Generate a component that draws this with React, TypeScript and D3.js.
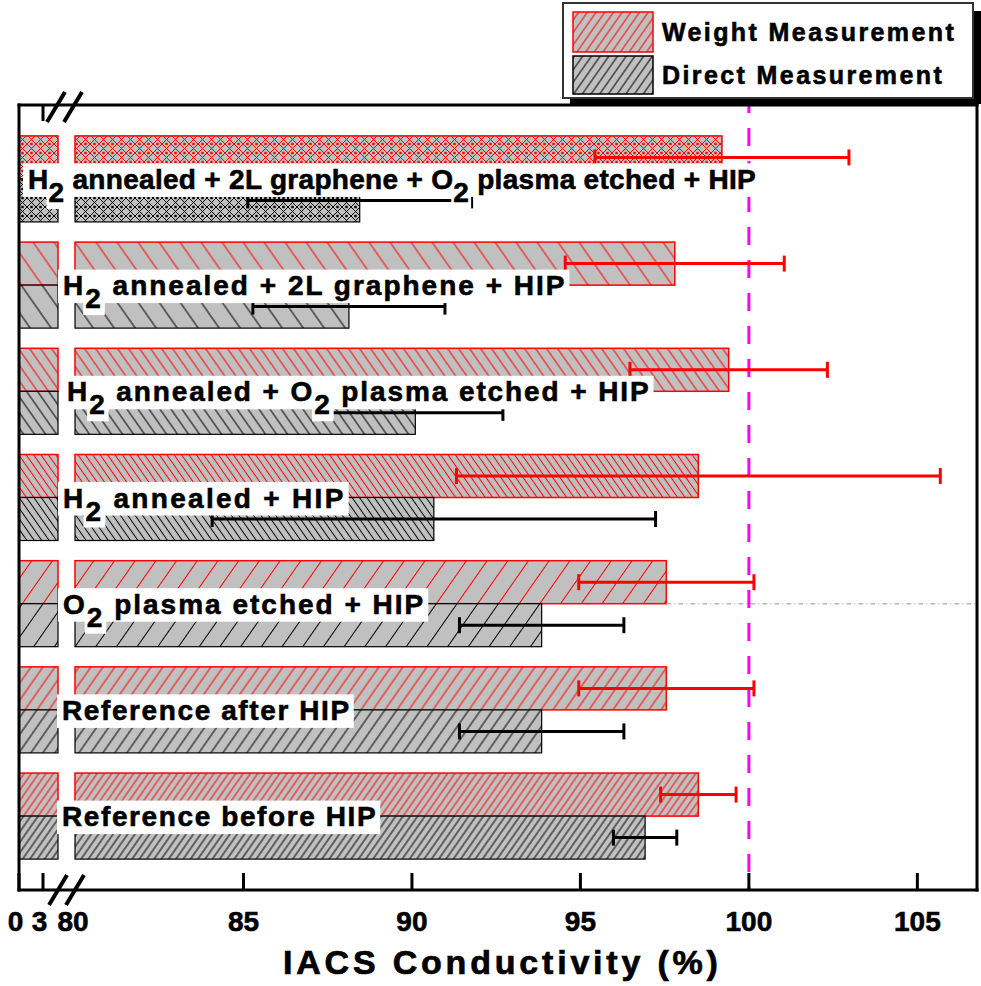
import React, { useEffect, useRef } from "react";
import * as d3 from "d3";

// ---------------- data ----------------
const categories = [
  "H2 annealed + 2L graphene + O2 plasma etched + HIP",
  "H2 annealed + 2L graphene + HIP",
  "H2 annealed + O2 plasma etched + HIP",
  "H2 annealed + HIP",
  "O2 plasma etched + HIP",
  "Reference after HIP",
  "Reference before HIP",
];
const seriesNames = ["Weight Measurement", "Direct Measurement"];
const weightValues = [99.2, 97.8, 99.4, 98.5, 97.55, 97.55, 98.5];
const weightErrors = [3.77, 3.25, 2.93, 7.18, 2.6, 2.6, 1.12];
const directValues = [88.45, 88.13, 90.1, 90.65, 93.85, 93.85, 96.92];
const directErrors = [3.32, 2.85, 2.6, 6.58, 2.44, 2.44, 0.94];
const leftTicks = [0, 3];
const rightTicks = [80, 85, 90, 95, 100, 105];
const referenceValue = 100;
const xTitle = "IACS Conductivity (%)";

// ---------------- styles ----------------
const hatchStyles = [
  { kind: "cross", period: 9 },
  { kind: "back", period: 21 },
  { kind: "back", period: 11 },
  { kind: "back", period: 7.4 },
  { kind: "fwd", period: 20.7 },
  { kind: "fwd", period: 12 },
  { kind: "fwd", period: 7.3 },
];
const legendHatch = { kind: "fwd", period: 8.7 };
const labelX = [28, 63, 67, 63, 63, 62, 62];
const labelSpacing = [0.3, 2.0, 1.9, 2.3, 2.0, 1.6, 1.6];
const seriesColors = ["#ff0000", "#000000"];
const FONT = "'Liberation Sans', Arial, sans-serif";
const TEXT_STROKE = 0.6;

function parseLabel(s: string) {
  const segs: { text: string; sub: boolean }[] = [];
  let cur = "";
  for (let i = 0; i < s.length; i++) {
    const c = s[i];
    if (c === "2" && i > 0 && (s[i - 1] === "H" || s[i - 1] === "O")) {
      segs.push({ text: cur, sub: false });
      segs.push({ text: "2", sub: true });
      cur = "";
    } else cur += c;
  }
  if (cur) segs.push({ text: cur, sub: false });
  return segs.filter((d) => d.text.length > 0);
}

export default function App() {
  const ref = useRef<SVGSVGElement>(null);
  useEffect(() => {
    const svg = d3.select(ref.current as SVGSVGElement);
    svg.selectAll("*").remove();
    const defs = svg.append("defs");

    const x0 = 19, x1 = 977, yTop = 105, yBot = 890;
    const breakL = 58, breakR = 75;
    const xL = d3.scaleLinear().domain([0, 4.875]).range([x0, breakL]);
    const xR = d3.scaleLinear().domain([80, 106.77]).range([breakR, x1]);
    const y = d3
      .scaleBand<string>()
      .domain(categories)
      .range([yTop, yBot])
      .paddingInner(0.19)
      .paddingOuter(0.291);
    const sub = d3.scaleBand<string>().domain(seriesNames).range([0, y.bandwidth()]);

    function makePattern(id: string, style: any, color: string) {
      if (style.kind === "cross") {
        const p = style.period;
        const pat = defs
          .append("pattern")
          .attr("id", id)
          .attr("patternUnits", "userSpaceOnUse")
          .attr("width", p)
          .attr("height", p);
        pat
          .append("path")
          .attr("d", `M0,0L${p},${p}M${p},0L0,${p}`)
          .attr("stroke", color)
          .attr("stroke-width", 1)
          .attr("fill", "none");
        pat.append("rect").attr("x", p / 2 - 1.2).attr("y", -1.2).attr("width", 2.4).attr("height", 2.4).attr("fill", color);
        pat.append("rect").attr("x", p / 2 - 1.2).attr("y", p - 1.2).attr("width", 2.4).attr("height", 2.4).attr("fill", color);
      } else {
        const d = style.period * Math.sin((55 * Math.PI) / 180);
        const pat = defs
          .append("pattern")
          .attr("id", id)
          .attr("patternUnits", "userSpaceOnUse")
          .attr("width", d)
          .attr("height", d)
          .attr("patternTransform", `rotate(${style.kind === "fwd" ? 35 : -35})`);
        pat
          .append("line")
          .attr("x1", d / 2)
          .attr("x2", d / 2)
          .attr("y1", -1)
          .attr("y2", d + 1)
          .attr("stroke", color)
          .attr("stroke-width", 1);
      }
    }

    categories.forEach((c, i) => {
      seriesColors.forEach((col, s) => makePattern(`h-${i}-${s}`, hatchStyles[i], col));
    });
    seriesColors.forEach((col, s) => makePattern(`leg-${s}`, legendHatch, col));

    // ---------- bars ----------
    const barG = svg.append("g");
    const vals = [weightValues, directValues];
    categories.forEach((c, i) => {
      seriesNames.forEach((sn, s) => {
        const v = vals[s][i];
        const yy = (y(c) as number) + (sub(sn) as number);
        const h = sub.bandwidth();
        const pieces = [
          [xL(0), xL(Math.min(v, 4.875))],
          [xR(80), xR(v)],
        ];
        pieces.forEach(([a, b]) => {
          barG.append("rect").attr("x", a).attr("y", yy).attr("width", b - a).attr("height", h).attr("fill", "#c0c0c0");
          barG.append("rect").attr("x", a).attr("y", yy).attr("width", b - a).attr("height", h).attr("fill", `url(#h-${i}-${s})`);
          barG
            .append("rect")
            .attr("x", a)
            .attr("y", yy)
            .attr("width", b - a)
            .attr("height", h)
            .attr("fill", "none")
            .attr("stroke", seriesColors[s])
            .attr("stroke-width", s === 0 ? 1.5 : 1.2);
        });
      });
    });

    // dotted gray line (present in original at boundary of 5th group)
    {
      const c = categories[4];
      const yc = (y(c) as number) + y.bandwidth() / 2;
      svg
        .append("line")
        .attr("x1", xR(weightValues[4]))
        .attr("x2", x1)
        .attr("y1", yc)
        .attr("y2", yc)
        .attr("stroke", "#b8b8b8")
        .attr("stroke-width", 1.5)
        .attr("stroke-dasharray", "5,3,1,3");
    }

    // reference line
    svg
      .append("line")
      .attr("x1", xR(referenceValue))
      .attr("x2", xR(referenceValue))
      .attr("y1", yTop)
      .attr("y2", yBot)
      .attr("stroke", "#ff00ff")
      .attr("stroke-width", 3)
      .attr("stroke-dasharray", "18,15")
      .attr("stroke-dashoffset", 10);

    // ---------- error bars ----------
    const errs = [weightErrors, directErrors];
    categories.forEach((c, i) => {
      seriesNames.forEach((sn, s) => {
        const v = vals[s][i];
        const e = errs[s][i];
        const yc = (y(c) as number) + (sub(sn) as number) + sub.bandwidth() / 2;
        const col = seriesColors[s];
        const a = xR(v - e), b = xR(v + e);
        const g = svg.append("g").attr("stroke", col).attr("stroke-width", 3);
        g.append("line").attr("x1", a).attr("x2", b).attr("y1", yc).attr("y2", yc);
        g.append("line").attr("x1", a).attr("x2", a).attr("y1", yc - 8).attr("y2", yc + 8);
        g.append("line").attr("x1", b).attr("x2", b).attr("y1", yc - 8).attr("y2", yc + 8);
      });
    });

    // ---------- labels ----------
    categories.forEach((c, i) => {
      const segs = parseLabel(c);
      const g = svg.append("g");
      const base = (y(c) as number) + y.bandwidth() / 2 + 10;
      let cx = labelX[i];
      const mainBoxes: DOMRect[] = [];
      const subBoxes: DOMRect[] = [];
      segs.forEach((seg) => {
        const t = g
          .append("text")
          .attr("x", cx)
          .attr("y", seg.sub ? base + 13 : base)
          .attr("font-family", FONT)
          .attr("font-weight", "bold")
          .attr("font-size", 28)
          .attr("letter-spacing", labelSpacing[i])
          .attr("stroke", "#000")
          .attr("stroke-width", TEXT_STROKE)
          .style("white-space", "pre")
          .attr("fill", "#000")
          .text(seg.text);
        const node = t.node() as SVGTextElement;
        const bb = node.getBBox();
        if (seg.sub) subBoxes.push(bb);
        else mainBoxes.push(bb);
        cx += node.getComputedTextLength();
      });
      const minX = d3.min(mainBoxes.concat(subBoxes), (b) => b.x) as number;
      const maxX = cx;
      g.insert("rect", ":first-child")
        .attr("x", minX - 5)
        .attr("y", base - 25.5)
        .attr("width", maxX - minX + 8)
        .attr("height", 33.5)
        .attr("fill", "#fff");
      subBoxes.forEach((bb) => {
        g.insert("rect", ":first-child")
          .attr("x", bb.x - 2)
          .attr("y", base - 10)
          .attr("width", bb.width + 4)
          .attr("height", 30)
          .attr("fill", "#fff");
      });
    });

    // ---------- frame & axes ----------
    const fr = svg.append("g").attr("stroke", "#000").attr("stroke-width", 3).attr("stroke-linecap", "square");
    fr.append("line").attr("x1", x0).attr("x2", x0).attr("y1", yTop).attr("y2", yBot);
    fr.append("line").attr("x1", x1).attr("x2", x1).attr("y1", yTop).attr("y2", yBot);
    fr.append("line").attr("x1", x0).attr("x2", x1).attr("y1", yTop).attr("y2", yTop);
    fr.append("line").attr("x1", x0).attr("x2", x1).attr("y1", yBot).attr("y2", yBot);

    const tk = svg.append("g").attr("stroke", "#000").attr("stroke-width", 3);
    leftTicks.forEach((t) => {
      tk.append("line").attr("x1", xL(t)).attr("x2", xL(t)).attr("y1", yBot).attr("y2", yBot - 17);
      if (t > 0) tk.append("line").attr("x1", xL(t)).attr("x2", xL(t)).attr("y1", yTop).attr("y2", yTop + 16);
    });
    rightTicks.forEach((t) => {
      if (t > 80) tk.append("line").attr("x1", xR(t)).attr("x2", xR(t)).attr("y1", yBot).attr("y2", yBot - 17);
    });

    // break marks
    const bk = svg.append("g").attr("stroke", "#000").attr("stroke-width", 4);
    [
      [breakL, yBot],
      [breakR, yBot],
      [breakL - 2, yTop + 2],
      [breakR - 2, yTop + 2],
    ].forEach(([cx, cy]) => {
      bk.append("line").attr("x1", cx - 9).attr("y1", cy + 15).attr("x2", cx + 9).attr("y2", cy - 15);
    });

    const tl = svg
      .append("g")
      .attr("font-family", FONT)
      .attr("font-weight", "bold")
      .attr("font-size", 28)
      .attr("stroke", "#000")
      .attr("stroke-width", TEXT_STROKE)
      .attr("text-anchor", "middle");
    leftTicks.forEach((t) => {
      tl.append("text").attr("x", xL(t) - 3.5).attr("y", 931).text(String(t));
    });
    rightTicks.forEach((t) => {
      tl.append("text").attr("x", xR(t) - (t === 80 ? 2 : 0)).attr("y", 931).text(String(t));
    });

    svg
      .append("text")
      .attr("x", 283)
      .attr("y", 974)
      .attr("font-family", FONT)
      .attr("font-weight", "bold")
      .attr("font-size", 34)
      .attr("letter-spacing", 3.8)
      .attr("stroke", "#000")
      .attr("stroke-width", 0.7)
      .text(xTitle);

    // ---------- legend ----------
    const lg = svg.append("g");
    lg.append("rect").attr("x", 570).attr("y", 11).attr("width", 411).attr("height", 93).attr("fill", "#000");
    lg.append("rect").attr("x", 563).attr("y", 3).attr("width", 410).attr("height", 95).attr("fill", "#fff").attr("stroke", "#333").attr("stroke-width", 2);
    seriesNames.forEach((sn, s) => {
      const yy = s === 0 ? 12 : 56;
      const hh = s === 0 ? 40 : 38;
      lg.append("rect").attr("x", 573).attr("y", yy).attr("width", 80).attr("height", hh).attr("fill", "#c0c0c0");
      lg.append("rect").attr("x", 573).attr("y", yy).attr("width", 80).attr("height", hh).attr("fill", `url(#leg-${s})`);
      lg.append("rect")
        .attr("x", 573)
        .attr("y", yy)
        .attr("width", 80)
        .attr("height", hh)
        .attr("fill", "none")
        .attr("stroke", seriesColors[s])
        .attr("stroke-width", 1.5);
      lg.append("text")
        .attr("x", 662)
        .attr("y", s === 0 ? 41 : 84)
        .attr("font-family", FONT)
        .attr("font-weight", "bold")
        .attr("font-size", 25)
        .attr("letter-spacing", 2.4)
        .attr("stroke", "#000")
        .attr("stroke-width", TEXT_STROKE)
        .text(sn);
    });
  }, []);

  return (
    <svg
      ref={ref}
      width={981}
      height={986}
      style={{ position: "absolute", left: 0, top: 0, background: "#fff" }}
    />
  );
}
